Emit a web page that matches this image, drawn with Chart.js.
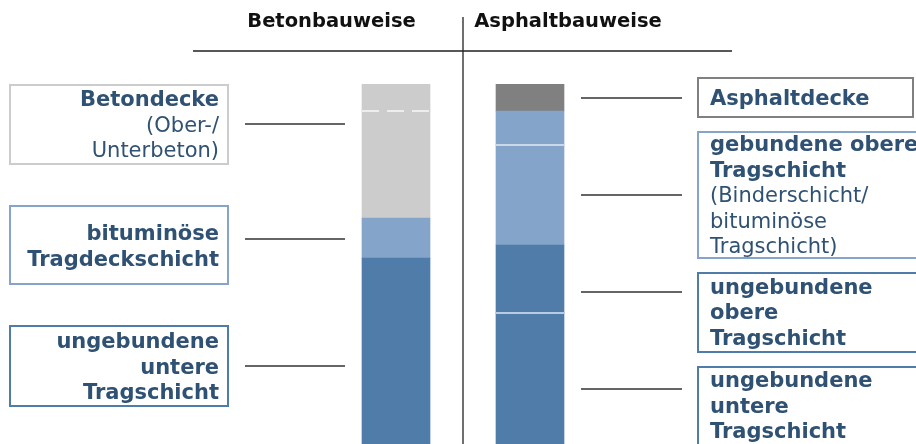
<!DOCTYPE html>
<html>
<head>
<meta charset="utf-8">
<script src="https://cdn.jsdelivr.net/npm/chart.js@4"></script>
<style>
  body { margin: 0; background: #fff; }
  #wrap { width: 916px; height: 444px; position: relative; }
</style>
</head>
<body>
<div id="wrap"><canvas id="layersChart"></canvas></div>
<script>
// categories
var categories = ['Betonbauweise', 'Asphaltbauweise'];

// layer thickness, from bottom to top (relative units)
var betonLayers = ['ungebundene untere Tragschicht', 'bituminöse Tragdeckschicht', 'Unterbeton', 'Oberbeton'];
var betonValues = [46.5, 10, 26.75, 6.75];

var asphaltLayers = ['ungebundene untere Tragschicht', 'ungebundene obere Tragschicht', 'bituminöse Tragschicht', 'Binderschicht', 'Asphaltdecke'];
var asphaltValues = [32.75, 17, 25, 8.5, 6.75];

var yMax = 90;

// styling
var betonColors = ['#4f7ca9', '#84a5c9', '#cccccc', '#cccccc'];
var betonSeps = [null, null, 'dash', null];
var asphaltColors = ['#4f7ca9', '#4f7ca9', '#84a5c9', '#84a5c9', '#808080'];
var asphaltSeps = ['solid', null, 'solid', null, null];

var TEXT = '#2f5173';

// callout boxes (text + where they sit)
var leftNotes = [
    { lines: [['Betondecke', true], ['(Ober-/', false], ['Unterbeton)', false]], box: [10, 85, 218, 79], border: '#cccccc', base: 106, lead: 124 },
    { lines: [['bituminöse', true], ['Tragdeckschicht', true]], box: [10, 206, 218, 78], border: '#84a5c9', base: 240, lead: 239 },
    { lines: [['ungebundene', true], ['untere', true], ['Tragschicht', true]], box: [10, 326, 218, 80], border: '#4f7ca9', base: 348, lead: 366 }
];
var rightNotes = [
    { lines: [['Asphaltdecke', true]], box: [698, 78, 215, 39], border: '#808080', base: 104.5, lead: 98 },
    { lines: [['gebundene obere', true], ['Tragschicht', true], ['(Binderschicht/', false], ['bituminöse', false], ['Tragschicht)', false]], box: [698, 132, 230, 126], border: '#84a5c9', base: 151, lead: 195 },
    { lines: [['ungebundene', true], ['obere', true], ['Tragschicht', true]], box: [698, 273, 230, 79], border: '#4f7ca9', base: 293.5, lead: 292 },
    { lines: [['ungebundene', true], ['untere', true], ['Tragschicht', true]], box: [698, 367, 230, 100], border: '#4f7ca9', base: 387, lead: 389 }
];

var datasets = [];
betonLayers.forEach(function (name, i) {
    datasets.push({ label: name, data: [betonValues[i], null], backgroundColor: betonColors[i], sep: betonSeps[i], stack: 's' });
});
asphaltLayers.forEach(function (name, i) {
    datasets.push({ label: name, data: [null, asphaltValues[i]], backgroundColor: asphaltColors[i], sep: asphaltSeps[i], stack: 's' });
});

function drawNote(ctx, note, alignRight, x) {
    ctx.save();
    ctx.strokeStyle = note.border;
    ctx.lineWidth = 2;
    var b = note.box;
    ctx.strokeRect(b[0], b[1], b[2], b[3]);
    ctx.fillStyle = TEXT;
    ctx.textAlign = alignRight ? 'right' : 'left';
    ctx.textBaseline = 'alphabetic';
    note.lines.forEach(function (l, i) {
        ctx.font = (l[1] ? 'bold ' : '') + '21px "DejaVu Sans"';
        ctx.fillText(l[0], x, note.base + i * 25.5);
    });
    ctx.restore();
}

var decorations = {
    id: 'decorations',
    afterDatasetsDraw: function (chart) {
        var ctx = chart.ctx;
        var area = chart.chartArea;

        // separators between layers of the same colour
        chart.data.datasets.forEach(function (ds, di) {
            if (!ds.sep) return;
            var meta = chart.getDatasetMeta(di);
            meta.data.forEach(function (el, i) {
                if (ds.data[i] == null) return;
                var half = el.width / 2;
                ctx.save();
                ctx.lineWidth = 1.6;
                if (ds.sep === 'dash') {
                    ctx.strokeStyle = 'rgba(255,255,255,0.85)';
                    ctx.setLineDash([17, 8]);
                } else {
                    ctx.strokeStyle = 'rgba(235,242,248,0.9)';
                }
                ctx.beginPath();
                ctx.moveTo(el.x - half, el.y);
                ctx.lineTo(el.x + half, el.y);
                ctx.stroke();
                ctx.restore();
            });
        });

        var first = chart.getDatasetMeta(0).data[0];
        var last = chart.getDatasetMeta(chart.data.datasets.length - 1).data[1];
        var leftBar = first.x - first.width / 2;
        var rightBar = last.x + last.width / 2;
        var mid = (first.x + last.x) / 2;

        // headings and dividers
        ctx.save();
        ctx.fillStyle = '#111';
        ctx.font = 'bold 19.5px "DejaVu Sans"';
        ctx.textAlign = 'center';
        ctx.fillText(categories[0], 331.5, 27);
        ctx.fillText(categories[1], 568, 27);
        ctx.strokeStyle = '#222';
        ctx.lineWidth = 1.3;
        ctx.beginPath();
        ctx.moveTo(193, 51); ctx.lineTo(732, 51);
        ctx.moveTo(mid, 17); ctx.lineTo(mid, area.bottom);
        ctx.stroke();
        ctx.restore();

        // leader lines
        ctx.save();
        ctx.strokeStyle = '#333';
        ctx.lineWidth = 1.3;
        ctx.beginPath();
        leftNotes.forEach(function (n) {
            ctx.moveTo(leftBar - 117, n.lead); ctx.lineTo(leftBar - 17, n.lead);
        });
        rightNotes.forEach(function (n) {
            ctx.moveTo(rightBar + 17, n.lead); ctx.lineTo(rightBar + 118, n.lead);
        });
        ctx.stroke();
        ctx.restore();

        leftNotes.forEach(function (n) { drawNote(ctx, n, true, 219); });
        rightNotes.forEach(function (n) { drawNote(ctx, n, false, 710); });
    }
};

var ctx = document.getElementById('layersChart').getContext('2d');
var chart = new Chart(ctx, {
    type: 'bar',
    data: {
        labels: categories,
        datasets: datasets
    },
    options: {
        responsive: true,
        maintainAspectRatio: false,
        animation: false,
        layout: { padding: { left: 329, right: 319, top: 84, bottom: 0 } },
        plugins: {
            legend: { display: false },
            tooltip: { enabled: false }
        },
        datasets: {
            bar: { barThickness: 68, borderWidth: 0 }
        },
        scales: {
            x: { stacked: true, display: false },
            y: { stacked: true, display: false, min: 0, max: yMax }
        }
    },
    plugins: [decorations]
});
</script>
</body>
</html>
